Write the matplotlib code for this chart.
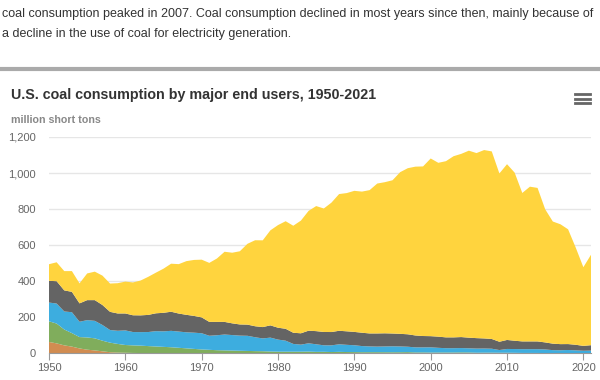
import numpy as np
import matplotlib
matplotlib.use("Agg")
import matplotlib.pyplot as plt
from matplotlib.lines import Line2D

plt.rcParams['font.family'] = ['Liberation Sans', 'DejaVu Sans']

# years 1950-2021
years = list(range(1950, 2022))

# million short tons (bottom layer first)
transportation = [63, 55, 44, 37, 27, 20, 16, 11, 6, 4,
                  3, 2, 1.5, 1, 0.9, 0.7, 0.6, 0.5, 0.5, 0.4,
                  0.3, 0.3, 0.2, 0.2, 0.2, 0.1, 0.1, 0.1, 0, 0] + [0] * 42
res_comm = [114.6, 110, 88, 75, 63, 68, 67, 59, 53, 48,
            43, 42, 41, 39, 37, 35, 33, 30, 27, 24,
            21, 19, 17, 16, 15, 14, 13, 12, 11.5, 10,
            9, 9, 9, 9, 9.5, 8, 8.3, 7, 8, 7,
            6.7, 6.1, 6.2, 6.2, 6, 5.8, 6, 6.5, 4.9, 4.9,
            4.1, 4.4, 4.4, 4.4, 5.1, 4.7, 3.2, 3.5, 3.5, 3.1,
            3.1, 2.7, 2.0, 2.0, 1.9, 1.4, 1.0, 0.9, 0.6, 0.5,
            0.4, 0.4]
coke_plants = [104, 111, 100, 116, 85, 96, 97, 87, 70, 73,
               81, 74, 75, 78, 85, 86, 91, 90, 89, 90,
               90, 78, 83, 88, 86, 84, 84, 77, 71, 77,
               67, 61, 43, 39, 46, 42, 36, 37, 42, 40,
               38, 34, 32, 31, 32, 33, 32, 30, 28, 28,
               29, 26, 24, 24, 24, 23, 23, 23, 22, 15,
               21, 21, 21, 21, 21, 20, 16.5, 16, 17.6, 15.8,
               13.8, 14.6]
other_industrial = [120.6, 124, 117, 113, 102, 111, 115, 111, 101, 96,
                    94, 93, 93, 95, 99, 103, 106, 100, 97, 93,
                    88, 77, 74, 70, 65, 62, 62, 61, 63, 68,
                    66, 66, 62, 63, 70, 73, 74, 74, 75, 75,
                    74, 74, 72, 73, 73, 71, 70, 69, 66, 63,
                    62, 62, 60, 60, 61, 59, 58, 56, 54, 46,
                    50, 46, 43, 43, 43, 39, 36, 34, 33, 31,
                    27, 30]
electric_power = [92, 105, 107, 115, 111, 148, 158, 163, 157, 168,
                  176.7, 182.2, 193.2, 211.3, 225.4, 244.8, 266.5, 274.2, 297.8, 310.6,
                  320.2, 327.3, 351.8, 389.2, 391.8, 406.0, 448.4, 477.1, 481.2, 527.1,
                  569.3, 596.8, 593.7, 625.2, 664.4, 693.8, 685.1, 717.9, 758.4, 766.9,
                  782.6, 783.0, 795.1, 831.6, 838.4, 850.2, 896.9, 921.4, 936.6, 940.9,
                  985.8, 964.4, 977.5, 1005.1, 1016.3, 1037.5, 1026.6, 1045.1, 1040.6, 933.6,
                  975.1, 932.5, 823.6, 858.4, 851.6, 738.4, 677.6, 664.9, 636.6, 539.1,
                  436.5, 501.7]

colors = ['#D18C51', '#80AD5C', '#3DADDF', '#646464', '#FFD43E']
y_ticks = [0, 200, 400, 600, 800, 1000, 1200]
x_ticks = list(range(1950, 2030, 10))

fig = plt.figure(figsize=(6, 3.8), dpi=100)

# texte au-dessus du graphique
fig.text(2 / 600, 1 - 14 / 380, "coal consumption peaked in 2007. Coal consumption declined in most years since then, mainly because of",
         fontsize=9.0, color='#333333', va='center', ha='left')
fig.text(2 / 600, 1 - 34 / 380, "a decline in the use of coal for electricity generation.",
         fontsize=9.0, color='#333333', va='center', ha='left')
fig.add_artist(Line2D([0, 1], [1 - 69 / 380, 1 - 69 / 380], color='#aaaaaa', lw=3,
                      transform=fig.transFigure))

fig.text(11 / 600, 1 - 95 / 380, "U.S. coal consumption by major end users, 1950-2021",
         fontsize=10.3, fontweight='bold', color='#333333', va='center', ha='left')
fig.text(11 / 600, 1 - 120 / 380, "million short tons",
         fontsize=7.7, fontweight='bold', color='#888888', va='center', ha='left')

# menu icon
for yy in (94, 98.5, 103):
    fig.add_artist(Line2D([575 / 600, 590 / 600], [1 - yy / 380, 1 - yy / 380],
                          color='#666666', lw=2, transform=fig.transFigure))

ax = fig.add_axes([49 / 600, 1 - 353.3 / 380, 542 / 600, (353.3 - 137) / 380])
ax.stackplot(years, transportation, res_comm, coke_plants, other_industrial, electric_power,
             colors=colors, linewidth=0, zorder=2)

ax.set_xlim(1950, 2021)
ax.set_ylim(0, 1200)
ax.set_yticks(y_ticks)
ax.set_yticklabels([f"{v:,}" for v in y_ticks])
ax.set_xticks(x_ticks)
ax.grid(axis='y', color='#e6e6e6', lw=1, zorder=0)
for s in ('top', 'right', 'left'):
    ax.spines[s].set_visible(False)
ax.spines['bottom'].set_color('#999999')
ax.spines['bottom'].set_zorder(3)
ax.tick_params(axis='y', length=0, pad=9.4, labelsize=8, labelcolor='#666666')
ax.tick_params(axis='x', length=5, color='#999999', pad=2, labelsize=8, labelcolor='#666666')

fig.savefig("out.png", dpi=100)
